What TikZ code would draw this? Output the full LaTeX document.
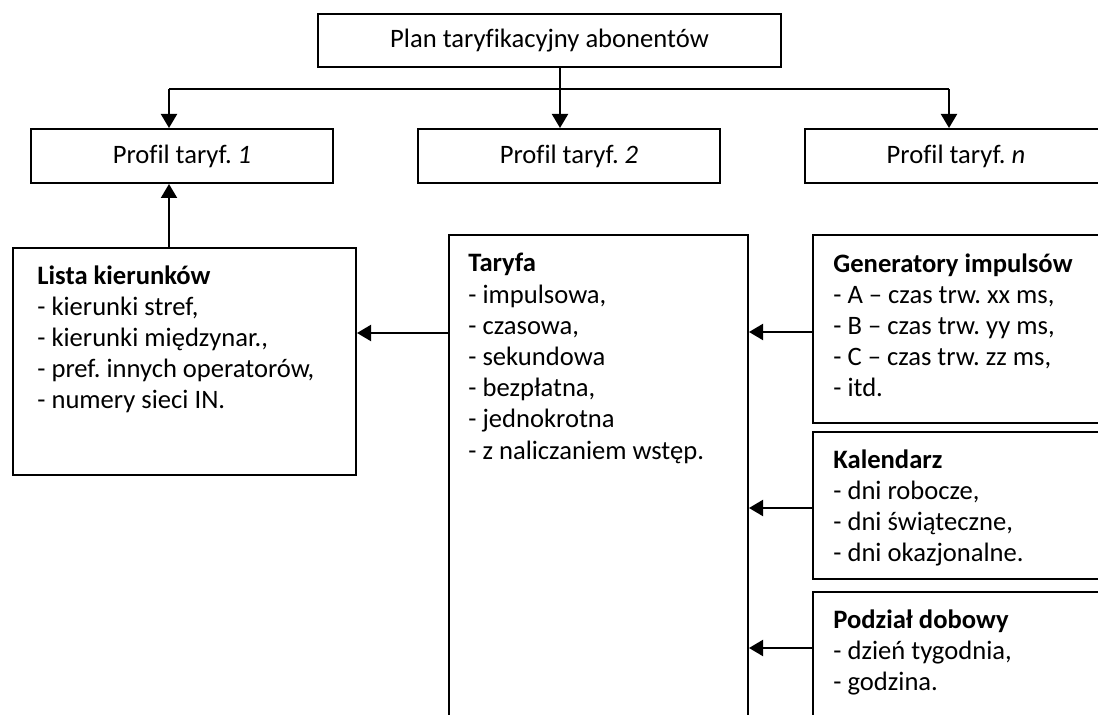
\documentclass[tikz,border=0pt]{standalone}
\usepackage{fontspec}
\setmainfont{Carlito}[Ligatures={TeX,NoCommon}]
\usetikzlibrary{arrows.meta,calc}
\frenchspacing

\tikzset{
  box/.style={draw, line width=1pt, inner sep=0pt, anchor=north west},
  txt/.style={anchor=north west, align=left, inner sep=0pt},
  arr/.style={line width=1pt, -{Triangle[length=7pt,width=8pt]}},
  bus/.style={line width=1pt}
}

\begin{document}
\begin{tikzpicture}[x=0.5pt,y=-0.5pt,font=\fontsize{13.3}{15.6}\selectfont]
\useasboundingbox (0,0) rectangle (1098,715);
\clip (0,0) rectangle (1098,715);

% plan and profiles
\node[box,minimum width=231.5pt,minimum height=26.5pt] (plan) at (317,13) {Plan taryfikacyjny abonentów};
\node[box,minimum width=151pt,minimum height=27pt] (prof1) at (30,128) {Profil taryf. \textit{1}};
\node[box,minimum width=151pt,minimum height=27pt] (prof2) at (417,128) {Profil taryf. \textit{2}};
\node[box,minimum width=151pt,minimum height=27pt] (profn) at (804,128) {Profil taryf. \textit{n}};

\coordinate (busL) at (169,89);
\coordinate (hub) at (560,89);
\coordinate (busR) at (949,89);
\draw[bus] (plan.south -| hub) -- (hub);
\draw[bus] (busL) -- (busR);
\draw[arr] (busL) -- (busL |- prof1.north);
\draw[arr] (hub) -- (hub |- prof2.north);
\draw[arr] (busR) -- (busR |- profn.north);

% lower boxes
\node[box,minimum width=171.5pt,minimum height=113.5pt] (lista) at (12,247) {};
\node[txt] (lista-t) at (37,265) {\textbf{Lista kierunków}\\- kierunki stref,\\- kierunki międzynar.,\\- pref. innych operatorów,\\- numery sieci IN.};

\node[box,minimum width=149.5pt,minimum height=270pt] (taryfa) at (448,234) {};
\node[txt] (taryfa-t) at (468,253) {\textbf{Taryfa}\\- impulsowa,\\- czasowa,\\- sekundowa\\- bezpłatna,\\- jednokrotna\\- z naliczaniem wstęp.};

\node[box,minimum width=160pt,minimum height=94pt] (gen) at (812,234) {};
\node[txt] (gen-t) at (833,253) {\textbf{Generatory impulsów}\\- A – czas trw. xx ms,\\- B – czas trw. yy ms,\\- C – czas trw. zz ms,\\- itd.};

\node[box,minimum width=160pt,minimum height=73.5pt] (kal) at (812,431) {};
\node[txt] (kal-t) at (833,449) {\textbf{Kalendarz}\\- dni robocze,\\- dni świąteczne,\\- dni okazjonalne.};

\node[box,minimum width=160pt,minimum height=100pt] (pod) at (812,591) {};
\node[txt] (pod-t) at (833,609) {\textbf{Podział dobowy}\\- dzień tygodnia,\\- godzina.};

% connectors
\draw[arr] (lista.north -| busL) -- (busL |- prof1.south);
\coordinate (tl) at ($(taryfa.north west)+(0,99)$);
\draw[arr] (tl) -- (tl -| lista.east);
\coordinate (gl) at ($(gen.north west)+(0,98)$);
\draw[arr] (gl) -- (gl -| taryfa.east);
\coordinate (kl) at ($(kal.north west)+(0,77)$);
\draw[arr] (kl) -- (kl -| taryfa.east);
\coordinate (pl) at ($(pod.north west)+(0,57)$);
\draw[arr] (pl) -- (pl -| taryfa.east);
\end{tikzpicture}
\end{document}
